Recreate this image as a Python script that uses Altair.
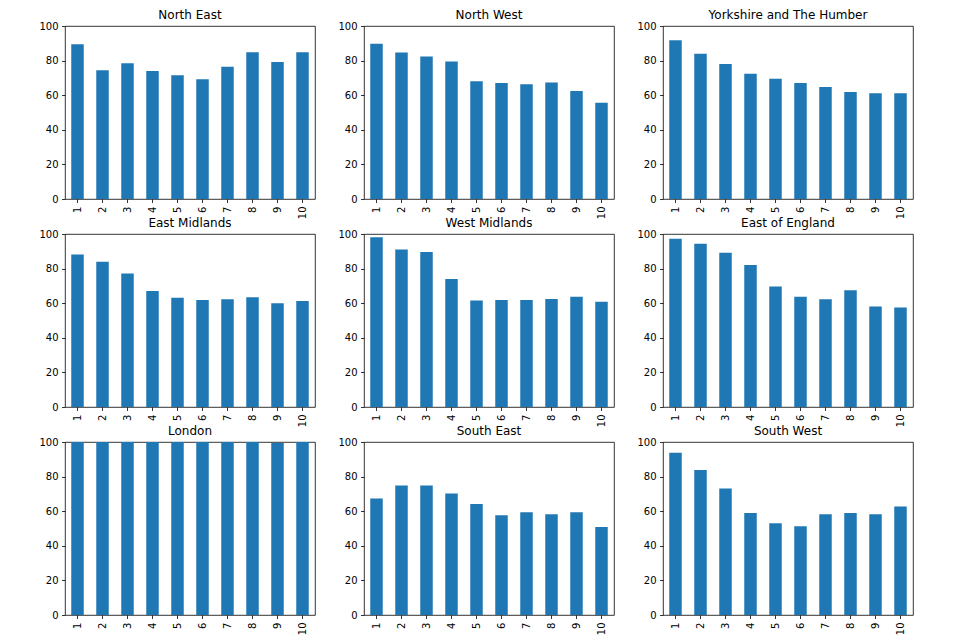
import altair as alt
import pandas as pd

categories = ["1", "2", "3", "4", "5", "6", "7", "8", "9", "10"]

regions = [
    "North East", "North West", "Yorkshire and The Humber",
    "East Midlands", "West Midlands", "East of England",
    "London", "South East", "South West",
]

north_east = [89.4, 74.4, 78.4, 74.0, 71.5, 69.2, 76.5, 84.8, 79.2, 84.8]
north_west = [89.8, 84.7, 82.4, 79.5, 68.0, 67.0, 66.3, 67.4, 62.5, 55.6]
yorkshire = [91.8, 83.9, 78.0, 72.4, 69.5, 67.0, 64.8, 61.9, 61.1, 61.1]
east_midlands = [88.1, 84.0, 77.1, 67.1, 63.1, 61.9, 62.3, 63.5, 60.0, 61.2]
west_midlands = [98.1, 91.0, 89.6, 74.0, 61.5, 61.9, 61.9, 62.5, 63.7, 60.8]
east_of_england = [97.3, 94.4, 89.2, 82.1, 69.6, 63.7, 62.3, 67.5, 58.1, 57.5]
london = [100, 100, 100, 100, 100, 100, 100, 100, 99.4, 100]
south_east = [67.3, 74.8, 74.8, 70.2, 64.2, 57.7, 59.4, 58.3, 59.4, 50.8]
south_west = [93.8, 83.8, 73.1, 59.0, 53.1, 51.3, 58.3, 59.0, 58.3, 62.7]

series = [north_east, north_west, yorkshire, east_midlands, west_midlands,
          east_of_england, london, south_east, south_west]

BAR = "#1f77b4"
FONT = "DejaVu Sans"


def panel(name, values):
    df = pd.DataFrame({"cat": categories, "value": values})
    return alt.Chart(df).mark_bar(color=BAR).encode(
        x=alt.X("cat:O", sort=categories, title=None,
                scale=alt.Scale(paddingInner=0.5, paddingOuter=0.25),
                axis=alt.Axis(labelAngle=270, labelFontSize=10, labelFont=FONT,
                              labelColor="black", tickColor="black", tickSize=3.5,
                              tickWidth=0.8, labelPadding=3.5, domain=False,
                              grid=False)),
        y=alt.Y("value:Q", title=None,
                scale=alt.Scale(domain=[0, 100], nice=False),
                axis=alt.Axis(values=[0, 20, 40, 60, 80, 100], labelFontSize=10,
                              labelFont=FONT, labelColor="black", tickColor="black",
                              tickSize=3.5, tickWidth=0.8, labelPadding=3.5,
                              domain=False, grid=False)),
    ).properties(
        width=250, height=173,
        title=alt.Title(name, fontSize=12, font=FONT, fontWeight="normal",
                        color="black", offset=-10, baseline="alphabetic"),
    )


charts = [panel(n, v) for n, v in zip(regions, series)]
chart = alt.ConcatChart(
    concat=charts, columns=3, bounds="flush",
    spacing=alt.RowColnumber(row=35, column=49),
).configure_view(
    stroke="black", strokeWidth=0.8
).properties(padding={"left": 30, "top": 0, "right": 5, "bottom": 5})

chart.save("out.html", embed_options={"renderer": "svg", "actions": False})
